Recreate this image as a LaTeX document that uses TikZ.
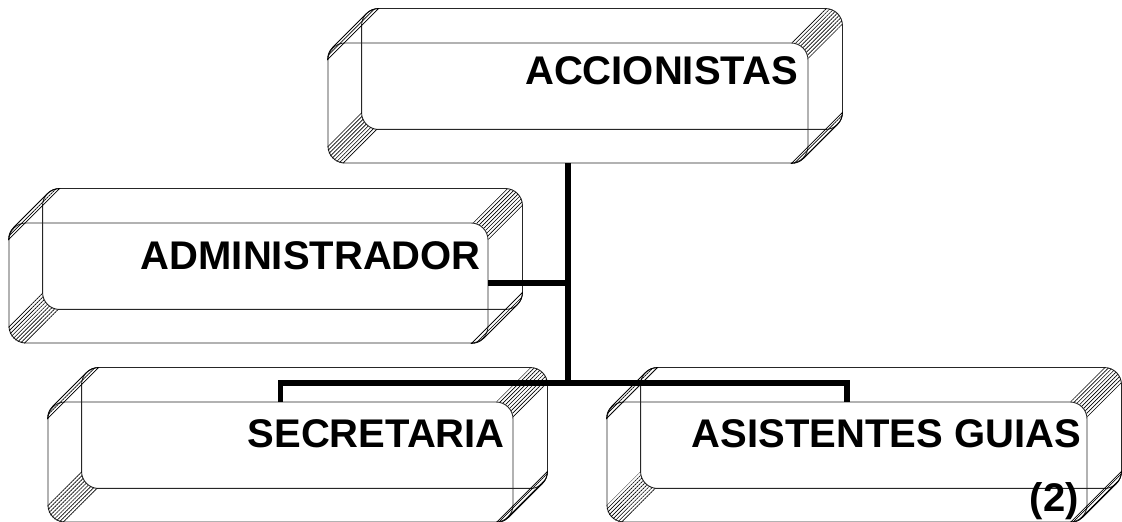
\documentclass[tikz,border=0pt]{standalone}
\usepackage{fontspec}
\setmainfont{Liberation Sans}
\usetikzlibrary{calc,patterns.meta}
\def\rr{17pt}
\def\dd{34pt}
\newcommand\drawframe[1]{%
  \draw[frameline, rounded corners=\rr] ($(#1.south west)+(\dd,\dd)$) rectangle ($(#1.north east)+(\dd,\dd)$);
  \fill[hatch] ($(#1.north east)+(0pt,-\rr)$) arc[start angle=0,end angle=90,radius=\rr] -- ++(\dd,\dd) arc[start angle=90,end angle=0,radius=\rr] -- cycle;
  \fill[hatch] ($(#1.south west)+(0pt,\rr)$) arc[start angle=180,end angle=270,radius=\rr] -- ++(\dd,\dd) arc[start angle=270,end angle=180,radius=\rr] -- cycle;
  \filldraw[hatch, strip] ($(#1.north west)+(0pt,-\rr)$) arc[start angle=180,end angle=135,radius=\rr] -- ++(\dd,\dd) arc[start angle=135,end angle=90,radius=\rr] -- cycle;
  \filldraw[hatch, strip] ($(#1.south east)+(-\rr,0pt)$) arc[start angle=270,end angle=315,radius=\rr] -- ++(\dd,\dd) arc[start angle=315,end angle=360,radius=\rr] -- cycle;
}
\begin{document}
\begin{tikzpicture}[x=1pt,y=1pt,
  frameline/.style={line width=0.9pt, draw=black!85},
  frontbox/.style={draw=black!85, line width=0.9pt, rounded corners=\rr, shape=rectangle, inner sep=0pt, minimum height=120pt},
  hatch/.style={pattern={Lines[angle=45,distance=2.8pt,line width=0.65pt]}},
  strip/.style={draw=black, line width=0.8pt},
  conn/.style={line width=5.5pt, line join=miter, line cap=butt},
  lbl/.style={inner sep=0pt, font=\fontsize{40}{46}\selectfont\bfseries, anchor=base east}]
\useasboundingbox (0,0) rectangle (1122,522);
% front faces
\node[frontbox, minimum width=480pt] (acc) at (568,419) {};
\node[frontbox, minimum width=479pt] (adm) at (248.5,239) {};
\node[frontbox, minimum width=465pt] (sec) at (280.5,60) {};
\node[frontbox, minimum width=480pt] (asi) at (847,60) {};
\drawframe{acc}
\drawframe{adm}
\drawframe{sec}
\drawframe{asi}
% connectors
\coordinate (j2) at (568,139);
\draw[conn] (acc.south) -- (j2);
\draw[conn] (adm.east) -- (adm.east -| acc.south);
\draw[conn] (sec.north) |- (j2) -| (asi.north);
% texts
\node[lbl] (acc-t) at (798,437) {ACCIONISTAS};
\node[lbl] (adm-t) at (481,252) {ADMINISTRADOR};
\node[lbl] (sec-t) at (505,74) {SECRETARIA};
\node[lbl] (asi-t) at (1081,74) {ASISTENTES GUIAS};
\node[lbl] (asi-n) at (1079,10) {(2)};
\end{tikzpicture}
\end{document}
